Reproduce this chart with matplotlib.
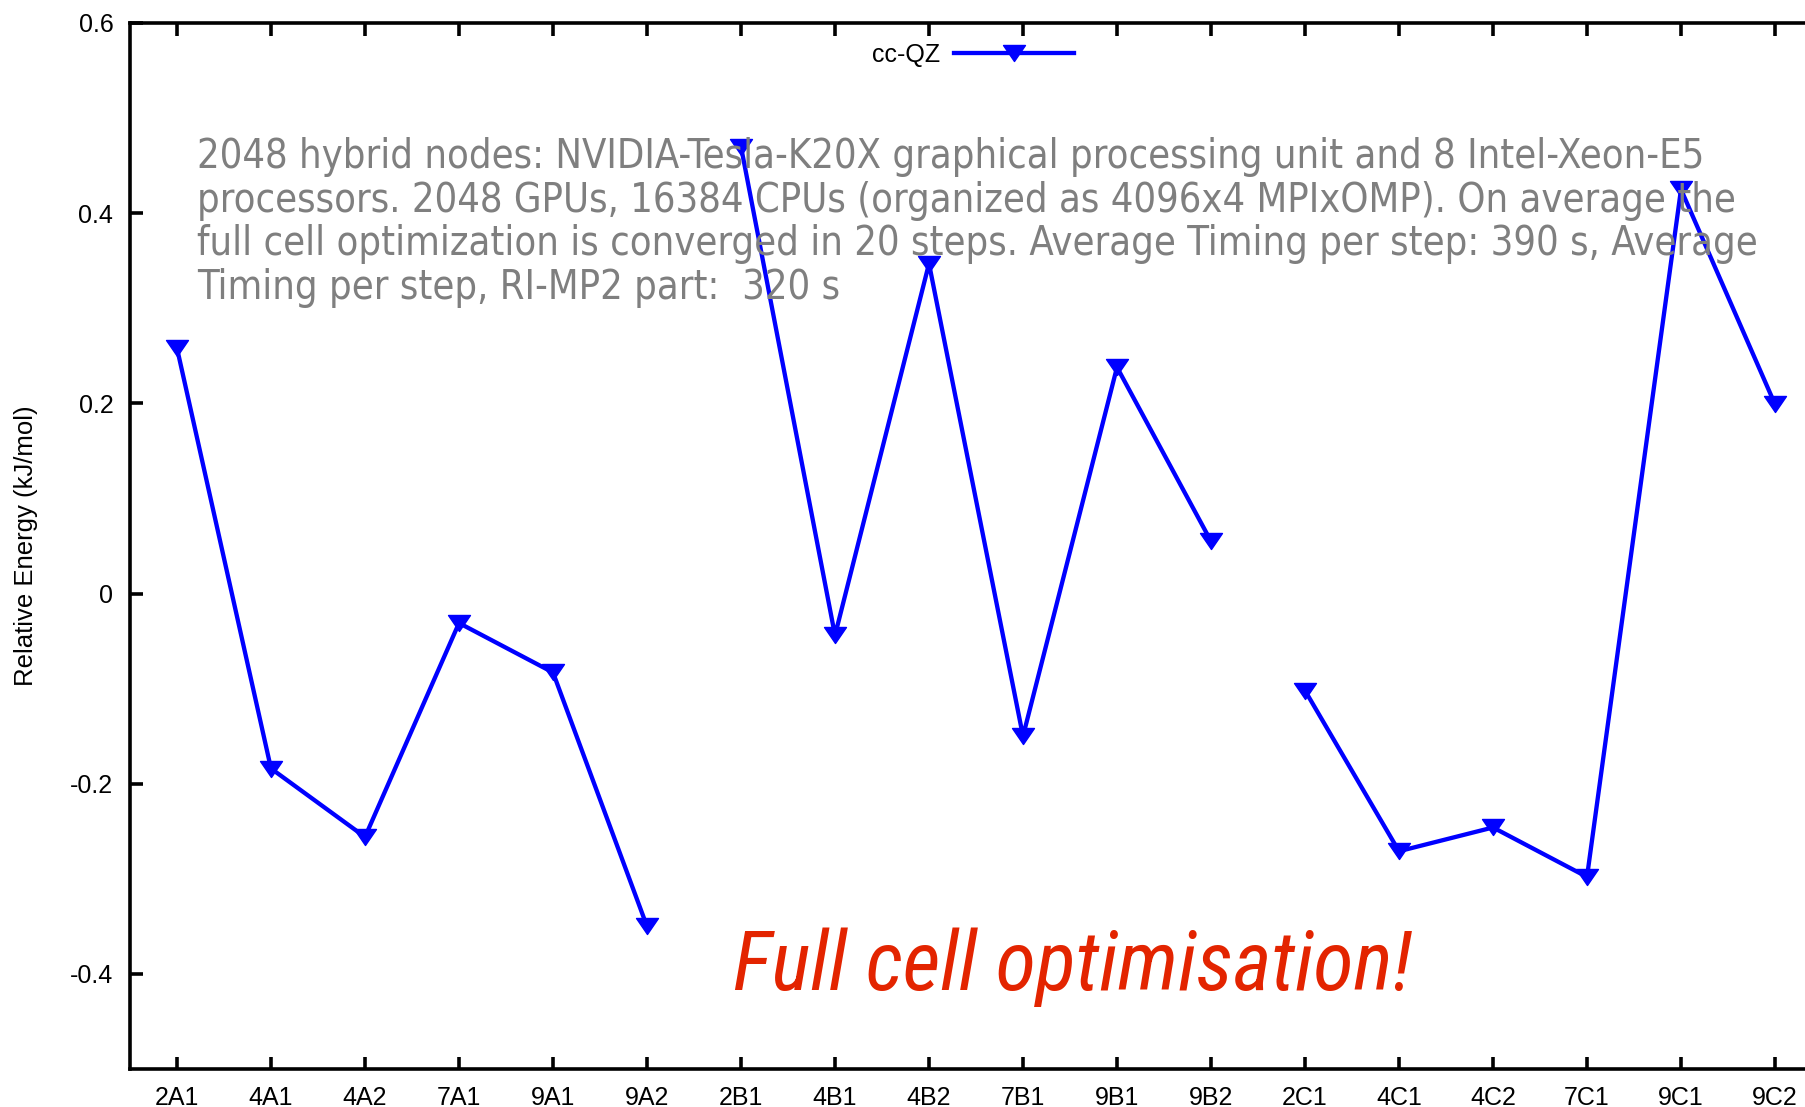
"""Relative energies of the cc-QZ structures after full cell optimisation."""
import os

import matplotlib
matplotlib.use("Agg")
import matplotlib.pyplot as plt
from matplotlib import font_manager
from matplotlib.markers import MarkerStyle
from matplotlib.path import Path
import numpy as np

LABELS = ["2A1", "4A1", "4A2", "7A1", "9A1", "9A2",
          "2B1", "4B1", "4B2", "7B1", "9B1", "9B2",
          "2C1", "4C1", "4C2", "7C1", "9C1", "9C2"]
ENERGY = [0.258, -0.184, -0.256, -0.031, -0.083, -0.350,
          0.470, -0.044, 0.347, -0.150, 0.238, 0.055,
          -0.102, -0.271, -0.246, -0.298, 0.425, 0.199]
GROUPS = ["A", "B", "C"]
YTICKS = [-0.4, -0.2, 0, 0.2, 0.4, 0.6]

INFO = [
    "2048 hybrid nodes: NVIDIA-Tesla-K20X graphical processing unit and 8 Intel-Xeon-E5",
    "processors. 2048 GPUs, 16384 CPUs (organized as 4096x4 MPIxOMP). On average the",
    "full cell optimization is converged in 20 steps. Average Timing per step: 390 s, Average",
    "Timing per step, RI-MP2 part:  320 s",
]
NOTE = "Full cell optimisation!"

W, H = 1805, 1107
BLUE = "#0000ff"


def fx(px):
    return px / W


def fy(py):
    return 1 - py / H


def find_font(candidates):
    """First installed file whose name matches one of (basename, size)."""
    files = {os.path.basename(f.fname).lower(): f.fname
             for f in font_manager.fontManager.ttflist}
    for base, size in candidates:
        for name, path in files.items():
            if name.startswith(base.lower()):
                return font_manager.FontProperties(fname=path, size=size)
    return None


info_fp = find_font([("DejaVuSansCondensed.", 28.5)]) or \
    font_manager.FontProperties(family="DejaVu Sans", size=23)
note_fp = find_font([("LiberationSansNarrow-Italic", 59.5),
                     ("NotoSans-CondensedItalic", 57.5),
                     ("RobotoCondensed-Italic", 59.5),
                     ("OpenSans_Condensed-Italic", 55.5)]) or \
    font_manager.FontProperties(family="Liberation Sans", style="italic", size=51)

# gnuplot style down triangle: wider than tall
tri = MarkerStyle(Path([(-1, 0.73), (1, 0.73), (0, -0.73), (-1, 0.73)],
                       [Path.MOVETO, Path.LINETO, Path.LINETO, Path.CLOSEPOLY]))

plt.rcParams["font.family"] = ["Liberation Sans", "DejaVu Sans"]

fig = plt.figure(figsize=(W / 100, H / 100), dpi=100)
# the plot frame runs past the right edge of the image
ax = fig.add_axes([fx(130), fy(1069), 1692 / W, 1046 / H])

x = np.arange(len(LABELS))
y = np.array(ENERGY)
for i, g in enumerate(GROUPS):
    m = np.array([lab[1] == g for lab in LABELS])
    ax.plot(x[m], y[m], "-", color=BLUE, lw=3.1, marker=tri, ms=15.8,
            mec=BLUE, mfc=BLUE, label="cc-QZ" if i == 0 else None)

ax.set_xlim(-0.5, len(LABELS) - 0.5)
ax.set_ylim(-0.5, 0.6)
ax.set_xticks(x)
ax.set_xticklabels(LABELS)
ax.set_yticks(YTICKS)
ax.set_yticklabels([f"{v:g}" for v in YTICKS])
ax.tick_params(direction="in", length=9, width=2.6, labelsize=18, pad=12,
               top=True, right=True)
for s in ax.spines.values():
    s.set_linewidth(2.6)

ax.set_ylabel("Relative Energy (kJ/mol)", fontsize=18.5)
ax.yaxis.set_label_coords((38 - 130) / 1692, 0.5)

ax.legend(loc="center", bbox_to_anchor=(fx(973), fy(55)), bbox_transform=fig.transFigure,
          frameon=False, markerfirst=False, numpoints=1, handlelength=4.8,
          handletextpad=0.55, borderpad=0, fontsize=18)

for k, line in enumerate(INFO):
    fig.text(fx(197), fy(168 + 43.7 * k), line, fontproperties=info_fp,
             color="#7f7f7f", va="baseline", ha="left")

fig.text(fx(733), fy(990), NOTE, color="#e32400", fontproperties=note_fp,
         va="baseline", ha="left")

fig.savefig("out.png", dpi=100)
